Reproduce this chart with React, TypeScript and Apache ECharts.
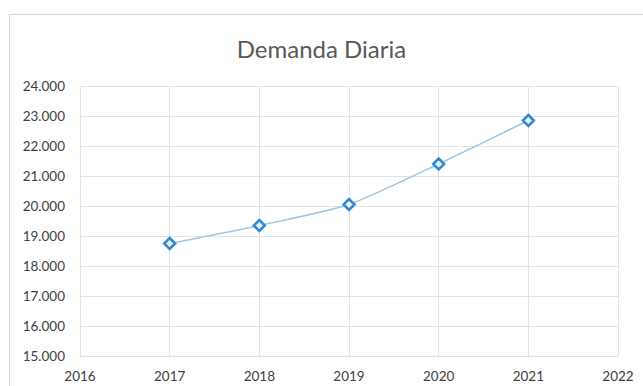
import React, { useEffect, useRef } from "react";
import * as echarts from "echarts";

const years = [2017, 2018, 2019, 2020, 2021];
const demanda = [18750, 19350, 20050, 21400, 22850];
const xTicks = [2016, 2022];
const yRange = [15000, 24000];

export default function App() {
  const ref = useRef<HTMLDivElement>(null);
  useEffect(() => {
    if (!ref.current) return;
    const chart = echarts.init(ref.current, null, { renderer: "svg" });
    chart.setOption({
      animation: false,
      backgroundColor: "#ffffff",
      title: {
        text: "Demanda Diaria",
        left: "center",
        top: 31,
        textStyle: { fontFamily: "Lato", fontSize: 24, fontWeight: "normal", color: "#595959" },
      },
      graphic: [
        {
          type: "rect",
          shape: { x: 9.5, y: 14.5, width: 700, height: 420 },
          style: { fill: "none", stroke: "#d4d4d4", lineWidth: 1 },
          silent: true,
        },
      ],
      grid: { left: 80, right: 25, top: 86, bottom: 30 },
      xAxis: {
        type: "value",
        min: xTicks[0],
        max: xTicks[1],
        interval: 1,
        axisLine: { show: false },
        axisTick: { show: false },
        splitLine: { show: true, lineStyle: { color: "#e2e2e2", width: 1 } },
        axisLabel: {
          margin: 13,
          color: "#404040",
          fontFamily: "Lato",
          fontSize: 13.5,
          formatter: (v: number) => String(v),
        },
      },
      yAxis: {
        type: "value",
        min: yRange[0],
        max: yRange[1],
        interval: 1000,
        axisLine: { show: false },
        axisTick: { show: false },
        splitLine: { show: true, lineStyle: { color: "#e2e2e2", width: 1 } },
        axisLabel: {
          margin: 15,
          color: "#404040",
          fontFamily: "Lato",
          fontSize: 13.5,
          formatter: (v: number) => {
            const t = Math.floor(v / 1000);
            const r = String(v % 1000).padStart(3, "0");
            return `${t}.${r}`;
          },
        },
      },
      series: [
        {
          type: "line",
          data: years.map((y, i) => [y, demanda[i]]),
          smooth: 0.2,
          symbol: "diamond",
          symbolSize: 11,
          lineStyle: { color: "#9fc4e2", width: 1.5 },
          itemStyle: { color: "#e8f3fc", borderColor: "#2f8ad0", borderWidth: 2.5 },
        },
      ],
    });
    return () => chart.dispose();
  }, []);
  return <div ref={ref} style={{ width: 643, height: 386, position: "absolute", left: 0, top: 0 }} />;
}
